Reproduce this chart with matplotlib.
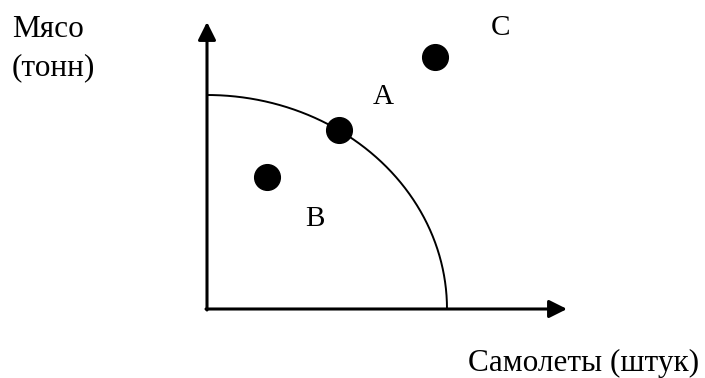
import numpy as np
import matplotlib
matplotlib.use("Agg")
import matplotlib.pyplot as plt

# Data (diagram units: origin at axes corner)
point_names = ["A", "B", "C"]
point_x = [132, 60, 228]
point_y = [179, 132, 252]
label_x = [176, 108, 294]
label_y = [212, 90, 281]
curve_rx = 240
curve_ry = 214
axis_x_len = 360
axis_y_len = 287

plt.rcParams['font.family'] = ['Liberation Serif', 'DejaVu Serif']

fig = plt.figure(figsize=(7.05, 3.78), dpi=100)
ax = fig.add_axes([0, 0, 1, 1])
ax.set_xlim(-207, 498)
ax.set_ylim(-69, 309)
ax.axis('off')

arrow = dict(arrowstyle='-|>,head_length=1.08,head_width=0.54', color='black', lw=2.2,
             shrinkA=0, shrinkB=0)
ax.annotate("", xy=(0, axis_y_len), xytext=(0, -1), arrowprops=arrow)
ax.annotate("", xy=(axis_x_len, 0), xytext=(-1, 0), arrowprops=arrow)

# PPF curve
t = np.linspace(0, np.pi / 2, 200)
ax.plot(curve_rx * np.cos(t), curve_ry * np.sin(t), color='black', lw=1.4)

# points
ax.plot(point_x, point_y, 'o', color='black', markersize=18.5)
for n, lx, ly in zip(point_names, label_x, label_y):
    ax.text(lx, ly, n, fontsize=21, ha='center', va='center')

ax.text(-195, 272, "Мясо", fontsize=22.5, ha='left', va='baseline')
ax.text(-195, 234, "(тонн)", fontsize=22.5, ha='left', va='baseline')
ax.text(261, -62, "Самолеты (штук)", fontsize=22.5, ha='left', va='baseline')

fig.savefig("out.png", dpi=100)
